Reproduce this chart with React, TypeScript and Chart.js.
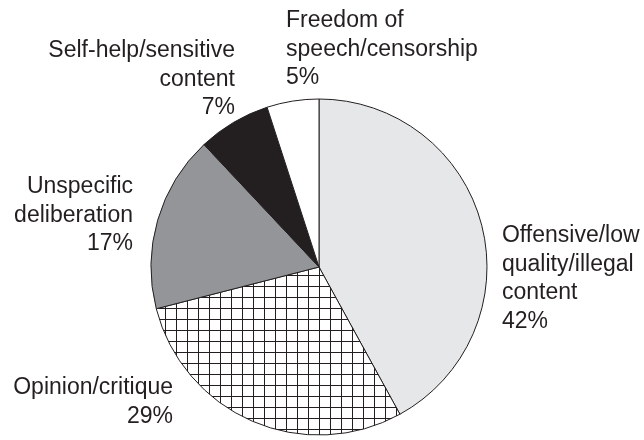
import React, { useEffect, useRef } from "react";
import { Chart, registerables } from "chart.js";

Chart.register(...registerables);

const categories = [
  "Offensive/low quality/illegal content",
  "Opinion/critique",
  "Unspecific deliberation",
  "Self-help/sensitive content",
  "Freedom of speech/censorship",
];
const shares = [42, 29, 17, 7, 5];
const labelLines = [
  ["Offensive/low", "quality/illegal", "content"],
  ["Opinion/critique"],
  ["Unspecific", "deliberation"],
  ["Self-help/sensitive", "content"],
  ["Freedom of", "speech/censorship"],
];

// label placement relative to pie centre, in units of the radius
const labelLayout: { dx: number; dy: number; align: CanvasTextAlign }[] = [
  { dx: 1.089, dy: -0.185, align: "left" },
  { dx: -0.869, dy: 0.72, align: "right" },
  { dx: -1.107, dy: -0.476, align: "right" },
  { dx: -0.5, dy: -1.286, align: "right" },
  { dx: -0.196, dy: -1.464, align: "left" },
];

const INK = "#231f20";

function makeHatch(): CanvasPattern | string {
  const c = document.createElement("canvas");
  const s = 11;
  c.width = s;
  c.height = s;
  const ctx = c.getContext("2d");
  if (!ctx) return "#ffffff";
  ctx.fillStyle = "#ffffff";
  ctx.fillRect(0, 0, s, s);
  ctx.fillStyle = INK;
  ctx.fillRect(0, 0, s, 1);
  ctx.fillRect(0, 0, 1, s);
  const p = ctx.createPattern(c, "repeat");
  return p || "#ffffff";
}

const labelPlugin = {
  id: "pieLabels",
  afterDatasetsDraw(chart: any) {
    const meta = chart.getDatasetMeta(0);
    const ctx: CanvasRenderingContext2D = chart.ctx;
    ctx.save();
    ctx.font = '23px "Liberation Sans", Arial, sans-serif';
    ctx.fillStyle = INK;
    ctx.textBaseline = "middle";
    const lineH = 28.5;
    meta.data.forEach((arc: any, i: number) => {
      const lay = labelLayout[i];
      const r = arc.outerRadius;
      const x = arc.x + lay.dx * r;
      const y0 = arc.y + lay.dy * r;
      ctx.textAlign = lay.align;
      const lines = [...labelLines[i], `${shares[i]}%`];
      lines.forEach((t, k) => ctx.fillText(t, x, y0 + k * lineH));
    });
    ctx.restore();
  },
};

export default function App() {
  const ref = useRef<HTMLCanvasElement>(null);
  useEffect(() => {
    if (!ref.current) return;
    const hatch = makeHatch();
    const chart = new Chart(ref.current, {
      type: "pie",
      data: {
        labels: categories,
        datasets: [
          {
            data: shares,
            backgroundColor: ["#e6e7e8", hatch as any, "#939598", INK, "#ffffff"],
            borderColor: INK,
            borderWidth: 1,
            hoverOffset: 0,
            offset: 0,
          },
        ],
      },
      options: {
        responsive: false,
        animation: false,
        devicePixelRatio: 1,
        radius: 168,
        layout: { padding: { top: 99, bottom: 5, left: 151, right: 157 } },
        plugins: {
          legend: { display: false },
          tooltip: { enabled: false },
        },
        events: [],
      },
      plugins: [labelPlugin],
    });
    return () => chart.destroy();
  }, []);
  return (
    <div style={{ position: "absolute", left: 0, top: 0, width: 644, height: 440, background: "#fff" }}>
      <canvas ref={ref} width={644} height={440} />
    </div>
  );
}
